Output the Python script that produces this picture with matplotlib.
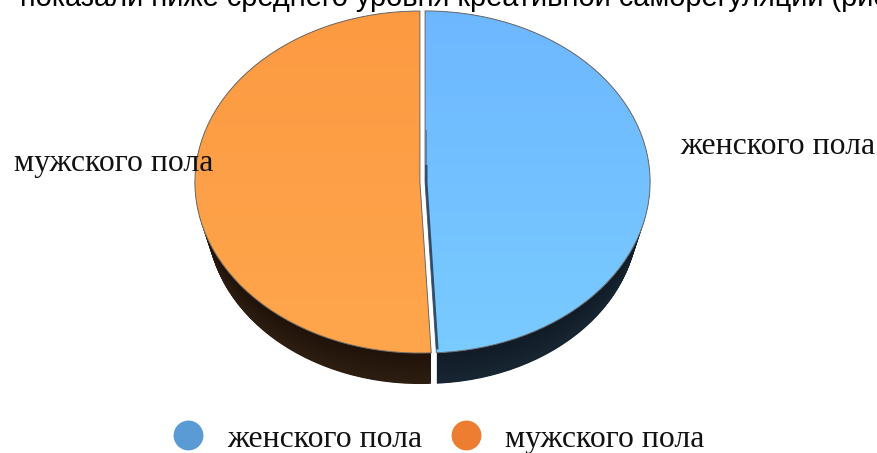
import numpy as np
import matplotlib
matplotlib.use('Agg')
import matplotlib.pyplot as plt
from matplotlib.lines import Line2D
from matplotlib.patches import Ellipse
from matplotlib.transforms import Affine2D

labels = ['женского пола', 'мужского пола']
values = [49.2, 50.8]
heading = 'показали ниже среднего уровня креативной саморегуляции (рис'

face_top = ['#6db7ff', '#fc9a42']
face_bottom = ['#79cbff', '#ffa64c']
wall_dark = ['#101b26', '#1f1208']
wall_light = ['#182633', '#2e1e12']
legend_colors = ['#5b9bd5', '#ed7d31']

W, H = 878, 453
CX, CY, RX, RY = 422.5, 182, 225, 171
fig = plt.figure(figsize=(W / 100, H / 100), dpi=100)
ax = fig.add_axes([0, 0, 1, 1])


def rgb(c):
    return np.array(matplotlib.colors.to_rgb(c))


def layer(cx, cy, rx, ry, colors, edge='none', lw=0):
    # one pie drawn in unit coordinates, then squashed onto the pixel axes
    wedges, _ = ax.pie(values, colors=colors, explode=[0.0115, 0.0115], startangle=90,
                       counterclock=False, radius=1, wedgeprops=dict(edgecolor=edge, linewidth=lw))
    tr = Affine2D().scale(rx, -ry).translate(cx, cy) + ax.transData
    for w in wedges:
        w.set_transform(tr)
    return wedges


# side wall, stacked from the lower ellipse up to the face
n = 60
for i in range(n):
    t = i / (n - 1)
    cols = [rgb(wall_light[k]) * (1 - t) + rgb(wall_dark[k]) * t for k in range(2)]
    layer(CX, 219 - 37 * t, 213 + 12 * t, 165 + 6 * t, cols)

# the wall must not show through the gap between the two faces
ax.add_patch(Ellipse((CX, CY), 2 * RX, 2 * RY, facecolor='white', edgecolor='none'))
end = np.deg2rad(360 * values[0] / sum(values))
gap_x = CX + RX * np.sin(end)
ax.plot([gap_x, gap_x], [CY + 0.9 * RY, 392], color='white', lw=4.1, solid_capstyle='butt', zorder=1)

# top face with a soft vertical shading
faces = layer(CX, CY, RX, RY, face_top)
for k, w in enumerate(faces):
    grad = np.linspace(0, 1, 256)[:, None, None]
    img = rgb(face_top[k])[None, None, :] * (1 - grad) + rgb(face_bottom[k])[None, None, :] * grad
    im = ax.imshow(img, extent=[190, 655, 358, 8], aspect='auto', zorder=w.get_zorder() + 0.1)
    im.set_clip_path(w)
rim = layer(CX, CY, RX, RY, ['none', 'none'], edge='#6a6a6a', lw=0.7)
for r in rim:
    r.set_zorder(faces[0].get_zorder() + 0.2)

# dark bevel along the lower straight edge of the blue slice
x0 = CX + 0.0115 * RX + 1.2
ax.plot([x0, x0], [130, 165], color='#5b82a8', lw=1.5, solid_capstyle='butt', zorder=3)
ax.plot([x0, x0, x0 + RX * np.sin(end) * 0.98], [165, CY, CY - RY * np.cos(end) * 0.98],
        color='#2f4d6b', lw=1.7, solid_capstyle='butt', zorder=3)

ax.set_aspect('auto')
ax.set_xlim(0, W)
ax.set_ylim(H, 0)
ax.axis('off')

serif = ['Liberation Serif', 'DejaVu Serif']
ax.text(20, 6.5, heading, family=['Liberation Sans', 'DejaVu Sans'], fontsize=20.9,
        color='black', ha='left', va='baseline', clip_on=True, zorder=5)
ax.text(14, 163, labels[1], family=serif, fontsize=22.9, color='#111111', ha='left', va='center', zorder=5)
ax.text(680, 147, labels[0], family=serif, fontsize=22.9, color='#111111', ha='left', va='center', zorder=5)

handles = [Line2D([], [], linestyle='none', marker='o', markersize=21.5, color=c,
                  markeredgewidth=0) for c in legend_colors]
ax.legend(handles, labels, loc='center', bbox_to_anchor=(436.5 / W, 1 - 439 / H), ncol=2, frameon=False,
          prop=dict(family=serif, size=22.9), labelcolor='#111111', handlelength=1.2,
          handletextpad=0.62, columnspacing=0.78, borderpad=0, borderaxespad=0)

fig.savefig('out.png', dpi=100, facecolor='white')
